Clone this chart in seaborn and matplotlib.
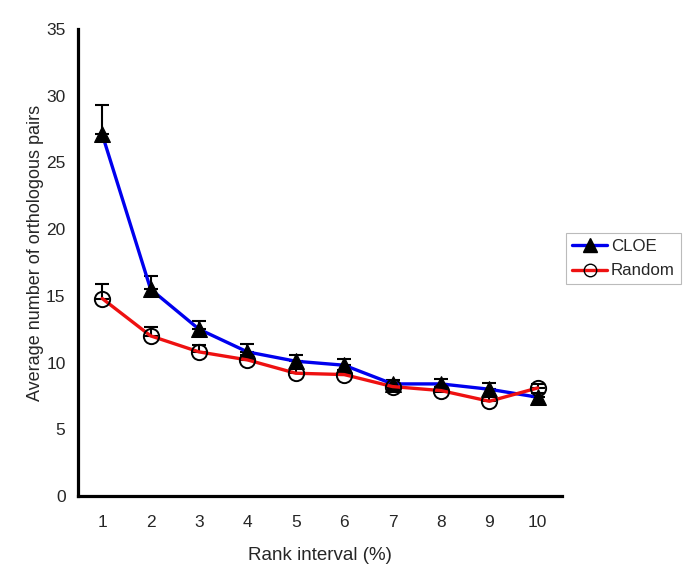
import numpy as np
import pandas as pd
import matplotlib
matplotlib.use('Agg')
import matplotlib.pyplot as plt
from matplotlib.lines import Line2D
import seaborn as sns

# values
rank = [1, 2, 3, 4, 5, 6, 7, 8, 9, 10]
cloe = [27.1, 15.5, 12.5, 10.8, 10.1, 9.8, 8.4, 8.4, 8.0, 7.4]
cloe_err = [2.2, 1.0, 0.6, 0.6, 0.5, 0.5, 0.3, 0.35, 0.45, 0.3]
rand = [14.8, 12.0, 10.8, 10.2, 9.2, 9.1, 8.2, 7.9, 7.1, 8.1]
rand_err = [1.1, 0.7, 0.5, 0.4, 0.35, 0.35, 0.3, 0.3, 0.3, 0.3]

sns.set_style('white')
plt.rcParams['font.family'] = ['Liberation Sans', 'DejaVu Sans']

df = pd.DataFrame({'rank': rank * 2,
                   'value': cloe + rand,
                   'series': ['CLOE'] * 10 + ['Random'] * 10})

fig = plt.figure(figsize=(6.85, 5.73), dpi=100)
ax = fig.add_axes([0.1139, 0.1344, 0.7065, 0.815])

# upward error bars only
ax.errorbar(rank, cloe, yerr=[np.zeros(10), cloe_err], fmt='none',
            ecolor='black', elinewidth=1.5, capsize=5, capthick=1.5, zorder=2)
ax.errorbar(rank, rand, yerr=[np.zeros(10), rand_err], fmt='none',
            ecolor='black', elinewidth=1.5, capsize=5, capthick=1.5, zorder=2)

sns.lineplot(data=df[df.series == 'CLOE'], x='rank', y='value', ax=ax,
             color='#0000ee', lw=2.4, marker='^', markersize=12,
             markerfacecolor='black', markeredgecolor='black', zorder=3)
sns.lineplot(data=df[df.series == 'Random'], x='rank', y='value', ax=ax,
             color='#ee1111', lw=2.4, marker='o', markersize=11,
             markerfacecolor='none', markeredgecolor='black',
             markeredgewidth=1.4, zorder=3)

ax.set_xlim(0.5, 10.5)
ax.set_ylim(0, 35)
ax.set_yticks(range(0, 36, 5))
ax.set_xticks(np.arange(0.5, 11, 1))
ax.set_xticklabels([])
ax.set_xticks(rank, minor=True)
ax.set_xticklabels([str(r) for r in rank], minor=True)
ax.tick_params(axis='x', which='major', direction='out', length=6, width=2.2,
               color='black')
ax.tick_params(axis='x', which='minor', length=0, labelsize=12.5, pad=14)
ax.tick_params(axis='y', direction='out', length=6, width=2.2, color='black',
               labelsize=12.5, pad=3)

for side in ['top', 'right']:
    ax.spines[side].set_visible(False)
for side in ['left', 'bottom']:
    ax.spines[side].set_color('black')
    ax.spines[side].set_linewidth(2.3)

ax.set_xlabel('Rank interval (%)', fontsize=13.5, labelpad=12)
ax.set_ylabel('Average number of orthologous pairs', fontsize=13)
ax.yaxis.set_label_coords(-0.07, 0.52)

handles = [Line2D([], [], color='#0000ee', lw=2.4, marker='^', markersize=10,
                  markerfacecolor='black', markeredgecolor='black'),
           Line2D([], [], color='#ee1111', lw=2.4, marker='o', markersize=9,
                  markerfacecolor='none', markeredgecolor='black')]
leg = fig.legend(handles, ['CLOE', 'Random'], loc='upper left',
                 bbox_to_anchor=(0.826, 0.593), fontsize=12.2, frameon=True,
                 fancybox=False, edgecolor='#aaaaaa', handlelength=2.1,
                 handletextpad=0.2, borderpad=0.35, labelspacing=0.55,
                 borderaxespad=0)
leg.get_frame().set_linewidth(0.8)

fig.savefig('out.png', dpi=100)
